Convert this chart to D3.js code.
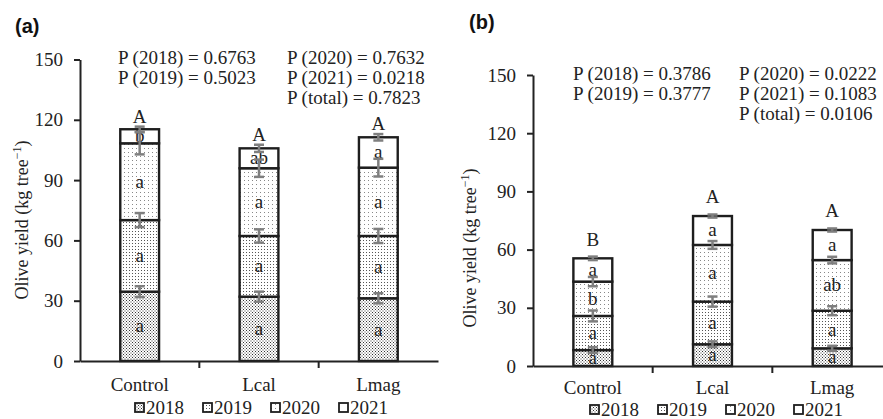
<!DOCTYPE html>
<html>
<head>
<meta charset="utf-8">
<script src="https://cdn.jsdelivr.net/npm/d3@7"></script>
<style>
  body { margin: 0; background: #fff; }
  svg { display: block; }
  text { font-family: "Liberation Serif", "Times New Roman", serif; fill: #222; }
</style>
</head>
<body>
<script>
// ===================================================================

const categories = ['Control', 'Lcal', 'Lmag']
const years = ['2018', '2019', '2020', '2021']
const yTicks = [0, 30, 60, 90, 120, 150]

// panel (a): yield per year (kg tree-1), stacked
const a2018 = [34.5, 32.0, 31.2]
const a2019 = [35.6, 30.2, 31.0]
const a2020 = [38.2, 33.7, 34.0]
const a2021 = [7.0, 9.9, 15.1]
const aErr2018 = [2.7, 2.5, 2.5]
const aErr2019 = [3.5, 3.3, 3.5]
const aErr2020 = [5.5, 4.3, 4.4]
const aErr2021 = [1.3, 1.8, 1.6]
const aLetters2018 = ['a', 'a', 'a']
const aLetters2019 = ['a', 'a', 'a']
const aLetters2020 = ['a', 'a', 'a']
const aLetters2021 = ['b', 'ab', 'a']
const aLettersTotal = ['A', 'A', 'A']
const aStats = [
  ['P (2018) = 0.6763', 'P (2019) = 0.5023'],
  ['P (2020) = 0.7632', 'P (2021) = 0.0218', 'P (total) = 0.7823']
]

// panel (b)
const b2018 = [8.2, 11.2, 9.1]
const b2019 = [17.6, 22.0, 19.4]
const b2020 = [17.7, 29.2, 26.1]
const b2021 = [12.0, 14.9, 15.5]
const bErr2018 = [1.5, 1.5, 1.3]
const bErr2019 = [2.8, 2.6, 2.3]
const bErr2020 = [2.4, 2.0, 1.7]
const bErr2021 = [0.9, 0.8, 0.8]
const bLetters2018 = ['a', 'a', 'a']
const bLetters2019 = ['a', 'a', 'a']
const bLetters2020 = ['b', 'a', 'ab']
const bLetters2021 = ['a', 'a', 'a']
const bLettersTotal = ['B', 'A', 'A']
const bStats = [
  ['P (2018) = 0.3786', 'P (2019) = 0.3777'],
  ['P (2020) = 0.0222', 'P (2021) = 0.1083', 'P (total) = 0.0106']
]

// ===================================================================

const WIDTH = 883
const HEIGHT = 419
const FONT = 19
const SERIF = '"Liberation Serif", "Times New Roman", serif'
const BAR_STROKE = '#1e1e1e'
const ERR_COLOR = '#7f7f7f'

const svg = d3.select('body').append('svg')
  .attr('width', WIDTH)
  .attr('height', HEIGHT)

// dotted fills, one per year
const defs = svg.append('defs')
const PATTERNS = [
  { id: 'p2018', size: 3, dots: [[0, 0], [1.5, 1.5]], color: '#333' },
  { id: 'p2019', size: 3, dots: [[0, 0]], color: '#555' },
  { id: 'p2020', size: 4, dots: [[0, 0]], color: '#888' },
  { id: 'p2021', size: 4, dots: [], color: '#fff' }
]
PATTERNS.forEach(p => {
  const pat = defs.append('pattern')
    .attr('id', p.id)
    .attr('patternUnits', 'userSpaceOnUse')
    .attr('width', p.size)
    .attr('height', p.size)
  pat.append('rect').attr('width', p.size).attr('height', p.size).attr('fill', '#fff')
  p.dots.forEach(d => {
    pat.append('rect').attr('x', d[0]).attr('y', d[1]).attr('width', 1).attr('height', 1).attr('fill', p.color)
  })
})

const drawPanel = (cfg) => {
  const g = svg.append('g')

  const x = d3.scaleBand().domain(categories).range(cfg.xRange)
  const y = d3.scaleLinear().domain([0, 150]).range(cfg.yRange)
  const barW = x.bandwidth() * 0.325

  // panel tag
  g.append('text')
    .attr('x', cfg.tag[0]).attr('y', cfg.tag[1])
    .style('font-family', '"Liberation Sans", Arial, sans-serif')
    .style('font-weight', 'bold')
    .style('font-size', '20px')
    .style('fill', '#111')
    .text(cfg.tagText)

  // stacked segments
  const rows = categories.map((c, i) => {
    let base = 0
    return cfg.values.map((vals, k) => {
      const seg = { cat: c, k, y0: base, y1: base + vals[i], err: cfg.errors[k][i], letter: cfg.letters[k][i] }
      base += vals[i]
      return seg
    })
  })

  rows.forEach((segs, i) => {
    const cx = x(categories[i]) + x.bandwidth() / 2
    const bar = g.append('g')

    bar.selectAll('rect')
      .data(segs)
      .join('rect')
        .attr('x', cx - barW / 2)
        .attr('y', d => y(d.y1))
        .attr('width', barW)
        .attr('height', d => y(d.y0) - y(d.y1))
        .attr('fill', d => `url(#${PATTERNS[d.k].id})`)
        .attr('stroke', BAR_STROKE)
        .attr('stroke-width', 2.4)

    bar.selectAll('text.seg')
      .data(segs)
      .join('text')
        .attr('class', 'seg')
        .attr('x', cx)
        .attr('y', d => (y(d.y0) + y(d.y1)) / 2 + 6)
        .attr('text-anchor', 'middle')
        .style('font-size', FONT + 'px')
        .text(d => d.letter)

    // error bars at segment tops
    const err = bar.selectAll('g.err')
      .data(segs)
      .join('g')
        .attr('class', 'err')
        .attr('stroke', ERR_COLOR)
    err.append('line')
      .attr('x1', cx).attr('x2', cx)
      .attr('y1', d => y(d.y1 - d.err)).attr('y2', d => y(d.y1 + d.err))
      .attr('stroke-width', 2.5)
    err.append('line')
      .attr('x1', cx - 5).attr('x2', cx + 5)
      .attr('y1', d => y(d.y1 + d.err)).attr('y2', d => y(d.y1 + d.err))
      .attr('stroke-width', 2.5)
    err.append('line')
      .attr('x1', cx - 5).attr('x2', cx + 5)
      .attr('y1', d => y(d.y1 - d.err)).attr('y2', d => y(d.y1 - d.err))
      .attr('stroke-width', 2.5)

    const top = segs[segs.length - 1]
    g.append('text')
      .attr('x', cx)
      .attr('y', y(top.y1 + top.err) - cfg.topGap)
      .attr('text-anchor', 'middle')
      .style('font-size', FONT + 'px')
      .text(cfg.totals[i])
  })

  // y axis
  const yAxis = g.append('g')
    .attr('transform', `translate(${cfg.xRange[0]},0)`)
    .call(d3.axisLeft(y).tickValues(yTicks).tickSize(6).tickSizeOuter(0).tickPadding(11))
    .attr('font-family', SERIF)
    .attr('font-size', FONT)
  yAxis.select('.domain').attr('stroke', '#222').attr('stroke-width', 2)
  yAxis.selectAll('.tick line').attr('stroke', '#222').attr('stroke-width', 2)
  yAxis.selectAll('.tick text').attr('fill', '#333')

  // x axis: labels from the band scale, ticks on band edges
  const xAxis = g.append('g')
    .attr('transform', `translate(0,${cfg.yRange[0]})`)
    .call(d3.axisBottom(x).tickSize(0).tickSizeOuter(0).tickPadding(cfg.labelPad))
    .attr('font-family', SERIF)
    .attr('font-size', FONT)
  xAxis.select('.domain').attr('stroke', '#222').attr('stroke-width', 2)
  xAxis.selectAll('.tick text').attr('fill', '#333')
  xAxis.selectAll('line.edge')
    .data(categories.slice(1))
    .join('line')
      .attr('class', 'edge')
      .attr('x1', d => x(d)).attr('x2', d => x(d))
      .attr('y1', 0).attr('y2', 7)
      .attr('stroke', '#222')
      .attr('stroke-width', 2)

  // y title
  const title = g.append('text')
    .attr('transform', `translate(${cfg.titlePos[0]},${cfg.titlePos[1]}) rotate(-90)`)
    .attr('text-anchor', 'middle')
    .style('font-size', '18px')
    .attr('fill', '#333')
  title.append('tspan').text('Olive yield  (kg tree')
  title.append('tspan').attr('dy', -7).style('font-size', '12px').text('−1')
  title.append('tspan').attr('dy', 7).text(')')

  // P values
  cfg.stats.forEach((col, ci) => {
    col.forEach((s, ri) => {
      g.append('text')
        .attr('x', cfg.statX[ci])
        .attr('y', cfg.statY + ri * 20)
        .style('font-size', FONT + 'px')
        .text(s)
    })
  })

  // legend
  const leg = g.selectAll('g.leg')
    .data(years)
    .join('g')
      .attr('class', 'leg')
      .attr('transform', (d, i) => `translate(${cfg.legend[0] + i * 68},${cfg.legend[1]})`)
  leg.append('rect')
    .attr('x', 0).attr('y', -5)
    .attr('width', 9).attr('height', 9)
    .attr('fill', (d, i) => `url(#${PATTERNS[i].id})`)
    .attr('stroke', BAR_STROKE)
    .attr('stroke-width', 1.8)
  leg.append('text')
    .attr('x', 11).attr('y', 6)
    .style('font-size', FONT + 'px')
    .text(d => d)
}

drawPanel({
  tagText: '(a)', tag: [15, 33],
  xRange: [80, 438], yRange: [361, 59.5],
  values: [a2018, a2019, a2020, a2021],
  errors: [aErr2018, aErr2019, aErr2020, aErr2021],
  letters: [aLetters2018, aLetters2019, aLetters2020, aLetters2021],
  totals: aLettersTotal, topGap: 4,
  stats: aStats, statX: [118, 287], statY: 64,
  titlePos: [28, 220],
  labelPad: 17,
  legend: [135, 408]
})

drawPanel({
  tagText: '(b)', tag: [469, 29],
  xRange: [533, 892], yRange: [366, 75],
  values: [b2018, b2019, b2020, b2021],
  errors: [bErr2018, bErr2019, bErr2020, bErr2021],
  letters: [bLetters2018, bLetters2019, bLetters2020, bLetters2021],
  totals: bLettersTotal, topGap: 11,
  stats: bStats, statX: [573, 739], statY: 80,
  titlePos: [476, 248],
  labelPad: 15,
  legend: [590, 410]
})
</script>
</body>
</html>
